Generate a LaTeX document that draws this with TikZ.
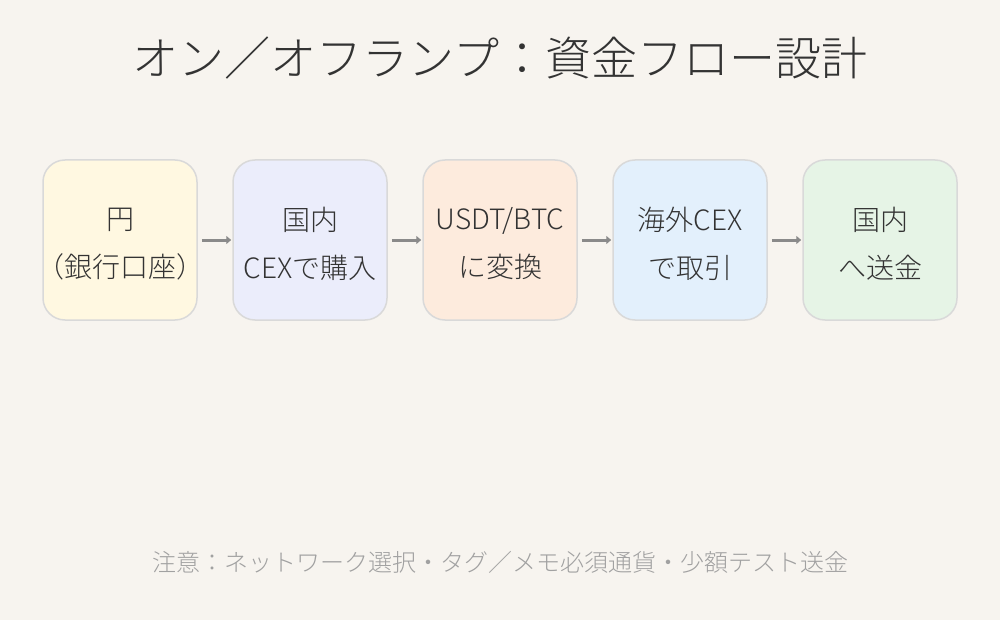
\documentclass[tikz,border=0pt]{standalone}
\usepackage{fontspec}
\setmainfont{Noto Sans CJK JP Light}
\usetikzlibrary{arrows.meta}
\definecolor{bg}{HTML}{F7F4EF}
\definecolor{bd}{HTML}{D9D9D9}
\definecolor{cA}{HTML}{FFF8E1}
\definecolor{cB}{HTML}{EBEDFB}
\definecolor{cC}{HTML}{FDEBDD}
\definecolor{cD}{HTML}{E3F0FC}
\definecolor{cE}{HTML}{E6F4E6}
\definecolor{tx}{HTML}{333333}
\definecolor{ar}{HTML}{8A8A8A}
\begin{document}
\begin{tikzpicture}[x=1pt,y=-1pt,
  box/.style={draw=bd,line width=1.5pt,rounded corners=22pt,minimum width=154pt,minimum height=160pt,inner sep=0pt},
  lbl/.style={align=center,text=tx,font=\fontsize{28}{48}\selectfont,inner sep=0pt},
  conn/.style={draw=ar,line width=3pt,-{Triangle[length=5pt,width=8pt]}}]
\fill[bg] (0,0) rectangle (1000,620);
\useasboundingbox (0,0) rectangle (1000,620);
\node[text=tx,font=\fontsize{46}{50}\selectfont] (title) at (500,58) {オン／オフランプ：資金フロー設計};
\node[box,fill=cA] (a) at (120,240) {};
\node[box,fill=cB] (b) at (310,240) {};
\node[box,fill=cC] (c) at (500,240) {};
\node[box,fill=cD] (d) at (690,240) {};
\node[box,fill=cE] (e) at (880,240) {};
\node[lbl] (ta) at (120,244) {円\\\hspace*{-6pt}（銀行口座）\hspace*{-6pt}};
\node[lbl] (tb) at (310,244) {国内\\CEXで購入};
\node[lbl] (tc) at (500,244) {USDT/BTC\\に変換};
\node[lbl] (td) at (690,244) {海外CEX\\で取引};
\node[lbl] (te) at (880,244) {国内\\へ送金};
\foreach \p/\q in {a/b,b/c,c/d,d/e}{\draw[conn] ([xshift=4pt]\p.east) -- ([xshift=-1pt]\q.west);}
\node[text=ar!80!white,font=\fontsize{24}{26}\selectfont] (note) at (500,562) {注意：ネットワーク選択・タグ／メモ必須通貨・少額テスト送金};
\end{tikzpicture}
\end{document}
